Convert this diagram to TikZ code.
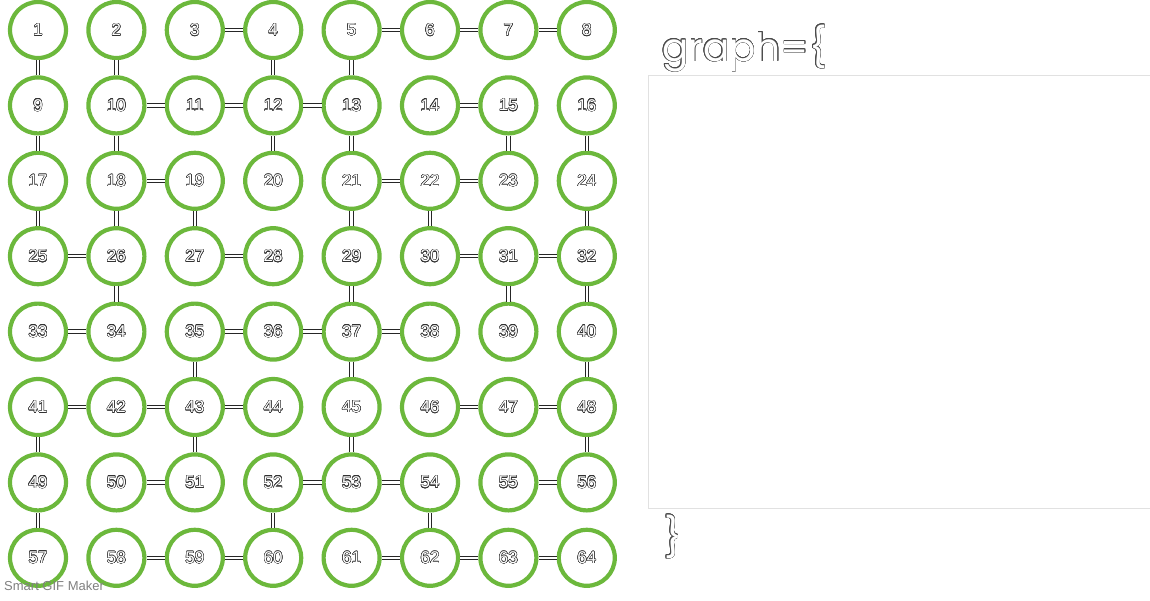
\documentclass[tikz,border=0pt]{standalone}
\usepackage{fontspec}
\setmainfont{Liberation Sans}
\newfontfamily\codefont{Poppins}
\usepackage{contour}
\contourlength{0.45pt}
\usetikzlibrary{positioning}

\definecolor{ringgreen}{RGB}{108,184,60}
\definecolor{boxgray}{RGB}{225,225,225}

\tikzset{
	vertex/.style={shape=circle,draw=ringgreen,line width=4.2pt,fill=white,
		minimum size=56pt,inner sep=0pt,font=\fontsize{17}{17}\selectfont},
	edge/.style={draw=black!85,line width=1pt,double=white,double distance=2.4pt},
}

\begin{document}
\begin{tikzpicture}[x=1pt,y=-1pt]
		\useasboundingbox (0,0) rectangle (1150,600);
		
		% setup the 8x8 grid of vertices, numbered row by row
		\foreach \r in {0,...,7} {
			\foreach \c in {0,...,7} {
				\pgfmathtruncatemacro{\n}{8*\r+\c+1}
				\node[vertex] (v\n) at (38+78.4*\c,30+75.4*\r) {\contour{black!80}{\textcolor{white}{\n}}};
				%labeling as v\n allows referencing the edges by number later
			}
		}
		
		% horizontal edges
		\foreach \a/\b in {3/4,5/6,6/7,7/8,10/11,11/12,12/13,14/15,18/19,21/22,22/23,
			25/26,27/28,30/31,31/32,33/34,35/36,36/37,37/38,41/42,42/43,43/44,46/47,47/48,
			50/51,52/53,53/54,55/56,58/59,59/60,61/62,62/63,63/64} {
			\draw[edge] (v\a) -- (v\b);
		}
		
		% vertical edges
		\foreach \a/\b in {1/9,2/10,4/12,5/13,9/17,10/18,12/20,13/21,15/23,16/24,
			17/25,18/26,19/27,21/29,22/30,24/32,26/34,29/37,31/39,32/40,35/43,37/45,
			40/48,41/49,43/51,45/53,48/56,49/57,52/60,54/62} {
			\draw[edge] (v\a) -- (v\b);
		}
		
		% code panel on the right
		\node[anchor=base west,inner sep=0pt,font=\codefont\fontsize{39}{39}\selectfont] (head) at (662,61)
			{\contour{black!70}{\textcolor{white}{graph=\{}}};
		\draw[boxgray,line width=1pt] (1150,75.5) -- (648.5,75.5) -- (648.5,508.5) -- (1150,508.5);
		\node[anchor=base west,inner sep=0pt,font=\codefont\fontsize{39}{39}\selectfont] (tail) at (664,551)
			{\contour{black!70}{\textcolor{white}{\}}}};
		
		% watermark
		\node[anchor=base west,inner sep=0pt,text=black!50,font=\fontsize{13}{13}\selectfont] (mark) at (4,590) {Smart GIF Maker};
\end{tikzpicture}
\end{document}
